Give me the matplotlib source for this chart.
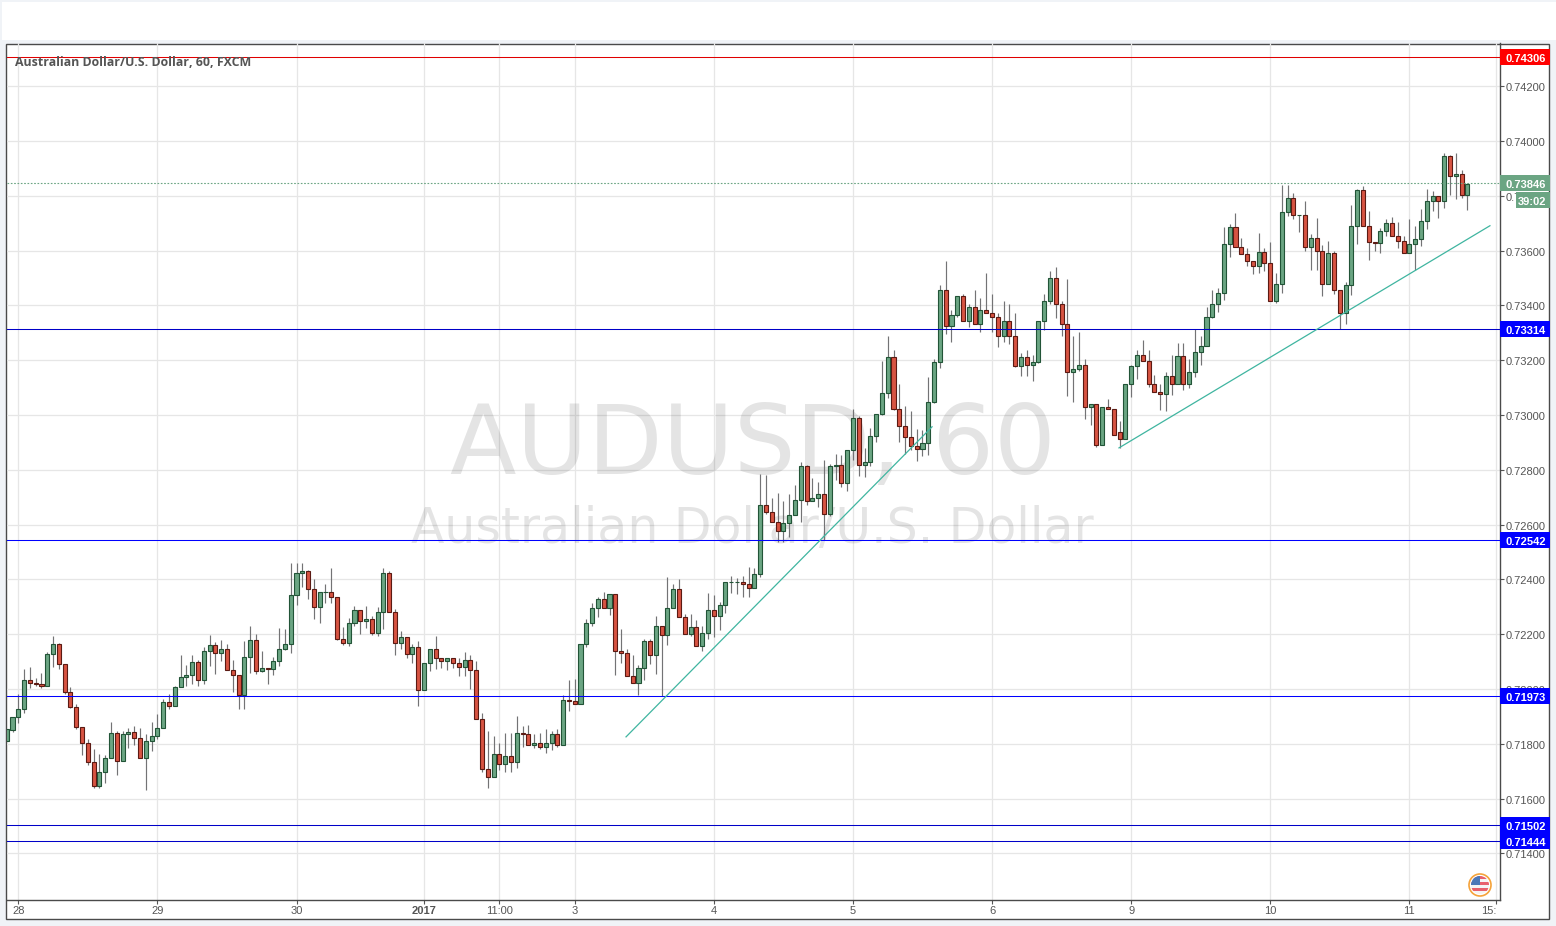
"""AUD/USD hourly candlesticks with support lines, trendlines and price tags."""

import matplotlib
matplotlib.use("Agg")
import matplotlib.pyplot as plt
import numpy as np
from matplotlib.patches import Circle, Rectangle
from matplotlib.transforms import ScaledTranslation

opens = [
    .71810, .71851, .71898, .71927, .72033, .72022, .72018, .72011, .72127, .72164,
    .72091, .71989, .71935, .71862, .71804, .71735, .71644, .71698, .71749, .71840,
    .71738, .71836, .71844, .71822, .71749, .71811, .71829, .71858, .71953, .71937,
    .72007, .72044, .72051, .72098, .72033, .72138, .72160, .72131, .72145, .72069,
    .72051, .71977, .72116, .72178, .72065, .72076, .72073, .72102, .72145, .72164,
    .72342, .72422, .72429, .72364, .72298, .72353, .72353, .72335, .72184, .72166,
    .72240, .72287, .72247, .72255, .72206, .72280, .72425, .72282, .72166, .72189,
    .72127, .72153, .71996, .72095, .72145, .72113, .72101, .72113, .72093, .72080,
    .72105, .72069, .71891, .71709, .71680, .71764, .71727, .71756, .71735, .71840,
    .71836, .71796, .71804, .71789, .71804, .71836, .71796, .71960, .71956, .71944,
    .72164, .72240, .72295, .72327, .72295, .72345, .72138, .72131, .72047, .72022,
    .72076, .72175, .72124, .72229, .72196, .72295, .72364, .72262, .72200, .72225,
    .72156, .72204, .72287, .72265, .72305, .72389, .72389, .72389, .72382, .72367,
    .72418, .72673, .72647, .72611, .72575, .72604, .72636, .72691, .72815, .72687,
    .72698, .72713, .72640, .72815, .72817, .72753, .72873, .72989, .72818, .72829,
    .72924, .73004, .73080, .73211, .73022, .72960, .72920, .72887, .72876, .72898,
    .73047, .73193, .73455, .73324, .73364, .73433, .73342, .73393, .73331, .73385,
    .73371, .73356, .73287, .73342, .73287, .73178, .73211, .73182, .73193, .73342,
    .73418, .73502, .73404, .73331, .73156, .73167, .73182, .73029, .73040, .72891,
    .73029, .73022, .72938, .72913, .73113, .73178, .73218, .73196, .73113, .73084,
    .73076, .73142, .73113, .73215, .73113, .73156, .73229, .73251, .73356, .73404,
    .73446, .73625, .73687, .73615, .73589, .73564, .73545, .73596, .73556, .73418,
    .73480, .73742, .73793, .73731, .73731, .73615, .73647, .73600, .73480, .73593,
    .73455, .73371, .73473, .73691, .73822, .73691, .73633, .73629, .73673, .73702,
    .73655, .73636, .73593, .73625, .73644, .73709, .73782, .73800, .73782, .73945,
    .73873, .73880, .73804,
]
closes = [
    .71852, .71898, .71927, .72033, .72022, .72018, .72011, .72127, .72164, .72091,
    .71989, .71935, .71862, .71804, .71735, .71644, .71698, .71749, .71840, .71738,
    .71836, .71844, .71822, .71749, .71811, .71829, .71858, .71953, .71937, .72007,
    .72044, .72051, .72098, .72033, .72138, .72160, .72131, .72145, .72069, .72051,
    .71977, .72116, .72178, .72065, .72076, .72073, .72102, .72145, .72164, .72342,
    .72422, .72429, .72364, .72298, .72353, .72353, .72335, .72184, .72166, .72240,
    .72287, .72247, .72255, .72206, .72280, .72425, .72282, .72166, .72189, .72127,
    .72153, .71996, .72095, .72145, .72113, .72101, .72113, .72093, .72080, .72105,
    .72069, .71891, .71709, .71680, .71764, .71727, .71756, .71735, .71840, .71836,
    .71796, .71804, .71789, .71804, .71836, .71796, .71960, .71956, .71944, .72164,
    .72240, .72295, .72327, .72295, .72345, .72138, .72131, .72047, .72022, .72076,
    .72175, .72124, .72229, .72196, .72295, .72364, .72262, .72200, .72225, .72156,
    .72204, .72287, .72265, .72305, .72389, .72389, .72389, .72382, .72367, .72418,
    .72673, .72647, .72611, .72575, .72604, .72636, .72691, .72815, .72687, .72698,
    .72713, .72640, .72815, .72817, .72753, .72873, .72989, .72818, .72829, .72924,
    .73004, .73080, .73211, .73022, .72960, .72920, .72887, .72876, .72898, .73047,
    .73193, .73455, .73324, .73364, .73433, .73342, .73393, .73331, .73385, .73371,
    .73356, .73287, .73342, .73287, .73178, .73211, .73182, .73193, .73342, .73418,
    .73502, .73404, .73331, .73156, .73167, .73182, .73029, .73040, .72891, .73029,
    .73022, .72927, .72913, .73113, .73178, .73218, .73196, .73113, .73084, .73076,
    .73142, .73113, .73215, .73113, .73156, .73229, .73251, .73356, .73404, .73444,
    .73625, .73687, .73615, .73589, .73564, .73545, .73596, .73556, .73418, .73480,
    .73742, .73793, .73731, .73731, .73615, .73647, .73600, .73480, .73593, .73455,
    .73371, .73473, .73691, .73822, .73691, .73633, .73629, .73673, .73702, .73655,
    .73636, .73593, .73625, .73644, .73709, .73782, .73800, .73782, .73945, .73873,
    .73880, .73804, .73844,
]
highs = [
    .71852, .71898, .71983, .72074, .72081, .72041, .72059, .72136, .72194, .72168,
    .72091, .72008, .71945, .71862, .71816, .71779, .71761, .71758, .71878, .71845,
    .71845, .71859, .71863, .71856, .71834, .71878, .71910, .71965, .71983, .72012,
    .72125, .72088, .72125, .72107, .72153, .72198, .72172, .72179, .72164, .72107,
    .72051, .72176, .72230, .72201, .72139, .72076, .72116, .72223, .72219, .72459,
    .72459, .72459, .72434, .72400, .72353, .72383, .72441, .72335, .72227, .72258,
    .72303, .72287, .72303, .72267, .72299, .72441, .72430, .72291, .72212, .72189,
    .72165, .72176, .72095, .72145, .72194, .72113, .72113, .72113, .72113, .72136,
    .72124, .72103, .71914, .71848, .71830, .71801, .71838, .71841, .71903, .71863,
    .71867, .71834, .71838, .71852, .71848, .71852, .71978, .72034, .72038, .72164,
    .72255, .72314, .72336, .72354, .72345, .72345, .72219, .72147, .72124, .72087,
    .72183, .72183, .72267, .72229, .72408, .72382, .72401, .72274, .72274, .72252,
    .72230, .72349, .72342, .72316, .72389, .72411, .72404, .72411, .72445, .72441,
    .72785, .72782, .72696, .72714, .72685, .72710, .72743, .72830, .72818, .72771,
    .72756, .72836, .72822, .72858, .72855, .72873, .73022, .72996, .72880, .72953,
    .73004, .73196, .73288, .73236, .73113, .73034, .73016, .72949, .72945, .73139,
    .73204, .73476, .73561, .73385, .73433, .73440, .73404, .73455, .73429, .73520,
    .73440, .73371, .73415, .73404, .73371, .73225, .73236, .73218, .73342, .73440,
    .73524, .73542, .73415, .73498, .73287, .73302, .73204, .73040, .73040, .73029,
    .73058, .73022, .72978, .73113, .73182, .73236, .73274, .73236, .73145, .73113,
    .73156, .73218, .73262, .73262, .73204, .73313, .73287, .73393, .73458, .73462,
    .73688, .73699, .73736, .73645, .73608, .73564, .73663, .73611, .73633, .73520,
    .73838, .73841, .73811, .73731, .73783, .73659, .73720, .73622, .73636, .73600,
    .73455, .73487, .73765, .73825, .73836, .73743, .73633, .73684, .73716, .73724,
    .73705, .73655, .73714, .73691, .73753, .73825, .73818, .73800, .73956, .73949,
    .73956, .73895, .73847,
]
lows = [
    .71810, .71842, .71875, .71912, .72002, .72010, .72002, .72011, .72079, .72074,
    .71981, .71930, .71853, .71759, .71722, .71639, .71639, .71658, .71749, .71686,
    .71738, .71783, .71794, .71749, .71632, .71772, .71816, .71858, .71926, .71937,
    .72007, .72010, .72019, .72012, .72017, .72085, .72056, .72103, .72069, .71990,
    .71925, .71928, .72059, .72053, .72061, .72019, .72052, .72085, .72141, .72133,
    .72307, .72372, .72328, .72256, .72241, .72315, .72315, .72177, .72160, .72155,
    .72228, .72201, .72223, .72198, .72194, .72219, .72282, .72125, .72147, .72114,
    .72096, .71939, .71996, .72067, .72074, .72078, .72070, .72078, .72048, .72048,
    .72001, .71891, .71695, .71639, .71680, .71705, .71695, .71697, .71712, .71787,
    .71796, .71783, .71782, .71766, .71776, .71788, .71796, .71919, .71944, .71944,
    .72153, .72230, .72263, .72295, .72270, .72052, .72095, .72047, .72022, .71977,
    .72033, .72092, .72056, .71975, .72162, .72295, .72262, .72200, .72193, .72156,
    .72137, .72182, .72189, .72215, .72279, .72352, .72348, .72337, .72337, .72367,
    .72408, .72640, .72611, .72538, .72535, .72553, .72636, .72611, .72670, .72687,
    .72665, .72542, .72633, .72761, .72737, .72722, .72836, .72778, .72775, .72815,
    .72902, .73000, .73062, .73018, .72902, .72858, .72873, .72831, .72851, .72855,
    .73043, .73170, .73295, .73268, .73356, .73342, .73320, .73331, .73304, .73371,
    .73302, .73250, .73265, .73258, .73175, .73142, .73142, .73124, .73190, .73309,
    .73407, .73353, .73287, .73069, .73047, .73160, .72985, .72964, .72884, .72891,
    .73022, .72927, .72880, .72913, .73067, .73132, .73196, .73102, .73084, .73018,
    .73015, .73072, .73113, .73091, .73098, .73138, .73184, .73251, .73353, .73375,
    .73421, .73577, .73615, .73589, .73544, .73515, .73519, .73526, .73418, .73410,
    .73446, .73728, .73716, .73667, .73599, .73530, .73530, .73435, .73480, .73440,
    .73313, .73331, .73439, .73623, .73691, .73566, .73599, .73592, .73653, .73655,
    .73611, .73593, .73593, .73531, .73616, .73678, .73743, .73718, .73754, .73805,
    .73787, .73794, .73750,
]

time_ticks = [2, 26, 50, 72, 85, 98, 122, 146, 170, 194, 218, 242, 257]
time_labels = ["28", "29", "30", "2017", "11:00", "3", "4", "5", "6", "9", "10", "11", "15:"]
price_ticks = [.7140, .7160, .7180, .7200, .7220, .7240, .7260, .7280,
               .7300, .7320, .7340, .7360, .7380, .7400, .7420]

level_prices = [.74306, .73314, .72542, .71973, .71502, .71444]
level_labels = ["0.74306", "0.73314", "0.72542", "0.71973", "0.71502", "0.71444"]
level_line_colors = ["#e00000", "#0000c8", "#0000ff", "#0000ff", "#0000c8", "#0000c8"]
level_tag_colors = ["#ff0000", "#0000ff", "#0000ff", "#0000ff", "#0000ff", "#0000ff"]

trend_a_x = [106.85, 159.65]
trend_a_y = [.71825, .72957]
trend_b_x = [191.9, 255.9]
trend_b_y = [.72880, .73691]

last_price = .73846
countdown = "39:02"

W, H = 1556, 926
UP, UP_EDGE = "#6ba583", "#225437"
DOWN, DOWN_EDGE = "#d75442", "#5b1a13"
WICK = "#737375"
TEXT = "#555555"
GRID = "#e6e6e6"
TEAL = "#3fb5a0"


def frac(x0, y0, x1, y1):
    """Pixel box (top-left origin) to figure fractions."""
    return x0 / W, 1 - y1 / H, (x1 - x0) / W, (y1 - y0) / H


def main() -> None:
    plt.rcParams["font.family"] = ["Liberation Sans", "DejaVu Sans"]
    fig = plt.figure(figsize=(W / 100, H / 100), dpi=100, facecolor="#f0f3f7")

    # page furniture in pixel coordinates
    page = fig.add_axes([0, 0, 1, 1], zorder=0)
    page.set_xlim(0, W)
    page.set_ylim(H, 0)
    page.axis("off")
    page.add_patch(Rectangle((2, 2), W - 2, 38, fc="white", ec="none"))
    page.add_patch(Rectangle((6.5, 43.5), 1543, 875.5, fc="white", ec="#4a4a4a", lw=1.0))

    ax = fig.add_axes(frac(7, 43.5, 1499.5, 900), zorder=1)
    ax.patch.set_alpha(0)
    ax.set_xlim(0.05, 257.55)
    y_bottom = .742 - (900 - 86.3) / 27393
    y_top = .742 + (86.3 - 43.5) / 27393
    ax.set_ylim(y_bottom, y_top)

    ax.set_axisbelow(True)
    ax.grid(True, color=GRID, lw=0.9)
    for side in ("top", "left"):
        ax.spines[side].set_visible(False)
    for side in ("right", "bottom"):
        ax.spines[side].set_color("#4a4a4a")
        ax.spines[side].set_linewidth(1.0)

    ax.yaxis.tick_right()
    ax.set_yticks(price_ticks)
    ax.set_yticklabels([f"{p:.5f}" for p in price_ticks])
    ax.set_xticks(time_ticks)
    ax.set_xticklabels(time_labels)
    ax.tick_params(axis="y", length=3, width=0.8, color="#555555", labelcolor=TEXT,
                   labelsize=8.0, pad=1.3)
    ax.tick_params(axis="x", length=3, width=0.8, color="#555555", labelcolor=TEXT,
                   labelsize=8.0, pad=1.0)
    nudge = ScaledTranslation(0, -1 / 100, fig.dpi_scale_trans)
    for label in ax.get_yticklabels():
        label.set_transform(label.get_transform() + nudge)
    xlabels = ax.get_xticklabels()
    xlabels[3].set_fontweight("bold")
    xlabels[-1].set_ha("right")

    # watermark
    mid_x = 128.7
    ax.text(mid_x, .7288, "AUDUSD, 60", family="DejaVu Sans", fontsize=70, color="#000000",
            alpha=0.105, ha="center", va="center", zorder=1)
    ax.text(mid_x, .72585, "Australian Dollar/U.S. Dollar", family="DejaVu Sans", fontsize=35.2,
            color="#000000", alpha=0.105, ha="center", va="center", zorder=1)

    # candles
    x = np.arange(len(opens))
    o, c, h, l = map(np.array, (opens, closes, highs, lows))
    up = c >= o
    ax.vlines(x, l, h, color=WICK, lw=0.85, zorder=2)
    ax.bar(x[up], c[up] - o[up], bottom=o[up], width=0.7, color=UP,
           edgecolor=UP_EDGE, lw=0.8, zorder=3)
    ax.bar(x[~up], o[~up] - c[~up], bottom=c[~up], width=0.7, color=DOWN,
           edgecolor=DOWN_EDGE, lw=0.8, zorder=3)

    # drawn levels and trendlines
    for price, color in zip(level_prices, level_line_colors):
        ax.axhline(price, color=color, lw=0.75, zorder=4)
    ax.axhline(last_price, color=UP, lw=0.8, ls=(0, (1.5, 1.5)), zorder=4)
    ax.plot(trend_a_x, trend_a_y, color=TEAL, lw=0.9, zorder=4)
    ax.plot(trend_b_x, trend_b_y, color=TEAL, lw=0.9, zorder=4)

    # price tags over the axis
    trans = ax.get_yaxis_transform()
    text_trans = trans + nudge
    axis_w = 1492.5
    tag_h = 16 / 27393
    tags = list(zip(level_prices, level_labels, level_tag_colors))
    tags.append((last_price, f"{last_price:.5f}", UP))
    for price, label, color in tags:
        ax.add_patch(Rectangle((1, price - tag_h / 2), 50 / axis_w, tag_h, fc=color, ec="none",
                               transform=trans, clip_on=False, zorder=6))
        ax.text(1 + 6.5 / axis_w, price, label, color="white", fontsize=8.0, fontweight="bold",
                ha="left", va="center_baseline", transform=text_trans, clip_on=False, zorder=7)
    below = last_price - 17 / 27393
    ax.add_patch(Rectangle((1 + 16 / axis_w, below - tag_h / 2), 34 / axis_w, tag_h, fc=UP,
                           ec="none", transform=trans, clip_on=False, zorder=6))
    ax.text(1 + 33 / axis_w, below, countdown, color="white", fontsize=8.0, fontweight="bold",
            ha="center", va="center_baseline", transform=text_trans, clip_on=False, zorder=7)

    # overlay: title and flag badge
    top = fig.add_axes([0, 0, 1, 1], zorder=2)
    top.set_xlim(0, W)
    top.set_ylim(H, 0)
    top.axis("off")
    top.patch.set_alpha(0)
    top.text(15, 62, "Australian Dollar/U.S. Dollar, 60, FXCM", family="Open Sans",
             fontweight="bold", fontsize=8.9, color=TEXT, ha="left", va="center")

    cx, cy = 1480, 885
    clip = Circle((cx, cy), 9, transform=top.transData)
    top.add_patch(Circle((cx, cy), 11, fc="white", ec="#f5a33a", lw=1.2))
    for k, yy in enumerate(range(-9, 9, 3)):
        color = "#e8606b" if k % 2 == 0 else "#f4f4f4"
        top.add_patch(Rectangle((cx - 9, cy + yy), 18, 3, fc=color, ec="none", clip_path=clip))
    top.add_patch(Rectangle((cx - 9, cy - 9), 9, 9, fc="#4a78b8", ec="none", clip_path=clip))

    fig.savefig("out.png", dpi=100, facecolor=fig.get_facecolor())
    plt.close(fig)


if __name__ == "__main__":
    main()
